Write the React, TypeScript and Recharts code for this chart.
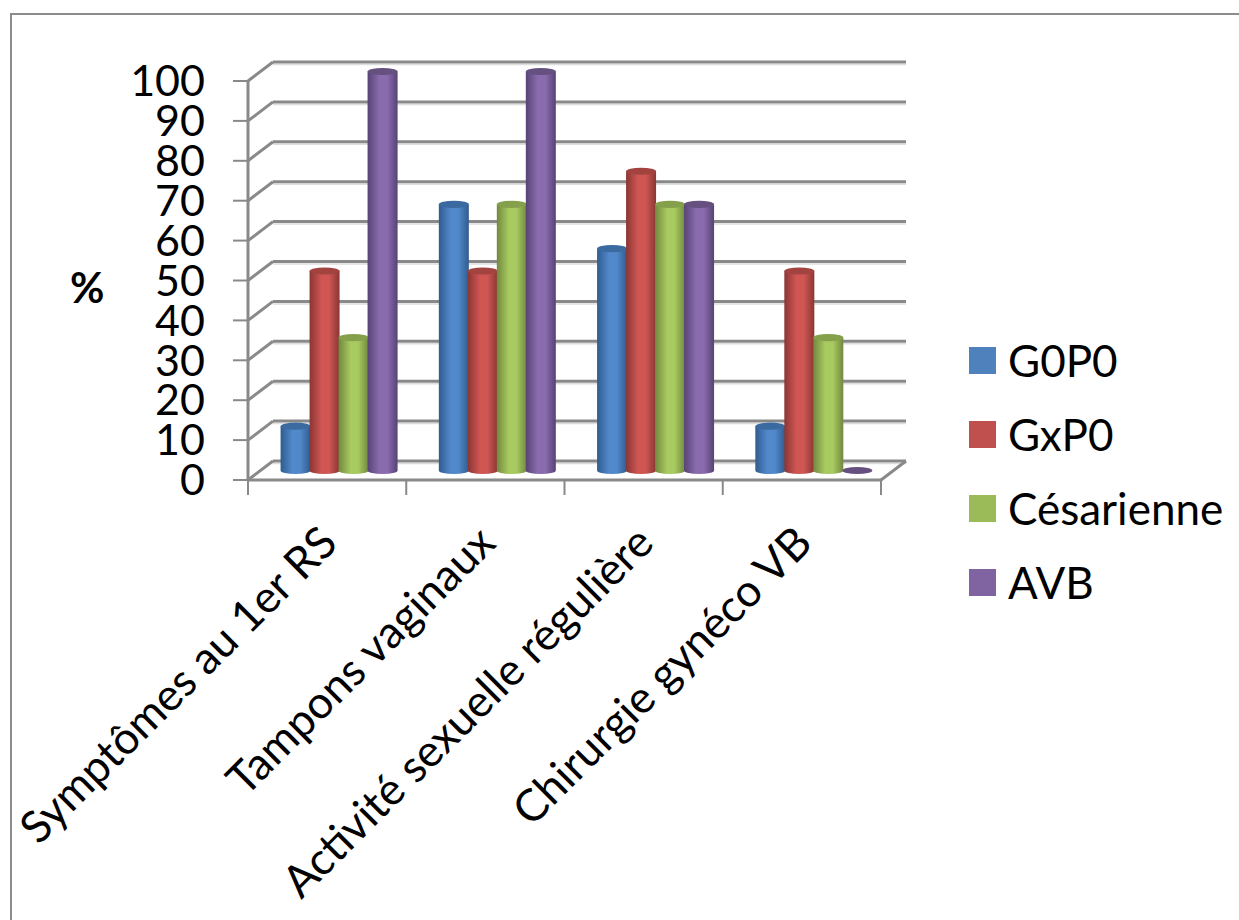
import { Bar, BarChart, CartesianGrid, Legend, XAxis, YAxis } from "recharts";

const categories = [
  "Symptômes au 1er RS",
  "Tampons vaginaux",
  "Activité sexuelle régulière",
  "Chirurgie gynéco VB",
];
const g0p0 = [11.1, 66.7, 55.6, 11.1];
const gxp0 = [50, 50, 75, 50];
const cesarienne = [33.3, 66.7, 66.7, 33.3];
const avb = [100, 100, 66.7, 0];
const yTicks = [0, 10, 20, 30, 40, 50, 60, 70, 80, 90, 100];
const edgeTicks = [0, 1, 2, 3, 4];

const chartData = categories.map((name, i) => ({
  name,
  slot: i,
  G0P0: g0p0[i],
  GxP0: gxp0[i],
  Césarienne: cesarienne[i],
  AVB: avb[i],
}));

const FONT = "Lato, sans-serif";
const AXIS = "#898989";
// how far the back wall sits behind the front of the axes
const DEPTH_X = 25;
const DEPTH_Y = 19;

const shades: Record<string, { id: string; edge: string; mid: string; top: string }> = {
  "#4f81bd": { id: "cylBlue", edge: "#2f5c8f", mid: "#5289cb", top: "#3a6a9f" },
  "#c0504d": { id: "cylRed", edge: "#8a3634", mid: "#cf5653", top: "#a24340" },
  "#9bbb59": { id: "cylGreen", edge: "#71893f", mid: "#a8ca60", top: "#84a04b" },
  "#8064a2": { id: "cylPurple", edge: "#574375", mid: "#8a6cae", top: "#65507f" },
};

function Cylinder(props: any) {
  const { x, y, width, height, fill } = props;
  const s = shades[fill];
  const left = x + DEPTH_X / 2 - 0.5;
  const w = width + 1;
  const rx = w / 2;
  const ry = 3.6;
  const top = y - DEPTH_Y / 2;
  const bottom = top + height;
  if (height < 1) {
    return <ellipse cx={left + rx} cy={bottom} rx={rx} ry={ry} fill={s.top} />;
  }
  return (
    <g>
      <path
        d={`M${left},${top} L${left},${bottom} A${rx},${ry} 0 0 0 ${left + w},${bottom} L${left + w},${top} Z`}
        fill={`url(#${s.id})`}
      />
      <ellipse cx={left + rx} cy={top} rx={rx} ry={ry} fill={s.top} />
    </g>
  );
}

function WallLine(props: any) {
  const { x1, y1, x2, y2 } = props;
  const isFloor = y1 > 475;
  return (
    <g key={`wall-${y1}`}>
      <line
        x1={x1 + DEPTH_X}
        y1={y1 - DEPTH_Y + 2.5}
        x2={x2 + DEPTH_X}
        y2={y2 - DEPTH_Y + 2.5}
        stroke="#dedede"
        strokeWidth={1.5}
      />
      <line
        x1={x1 + DEPTH_X}
        y1={y1 - DEPTH_Y}
        x2={x2 + DEPTH_X}
        y2={y2 - DEPTH_Y}
        stroke={AXIS}
        strokeWidth={3}
      />
      <line x1={x1} y1={y1} x2={x1 + DEPTH_X} y2={y1 - DEPTH_Y} stroke={AXIS} strokeWidth={3} />
      {isFloor && (
        <line x1={x2} y1={y2} x2={x2 + DEPTH_X} y2={y2 - DEPTH_Y} stroke={AXIS} strokeWidth={3} />
      )}
    </g>
  );
}

function CategoryTick({ x, y, payload }: any) {
  return (
    <text
      transform={`translate(${x - 10},${y + 34}) rotate(-45)`}
      textAnchor="end"
      dy="0.71em"
      fontFamily={FONT}
      fontSize={44.5}
      fill="#000"
    >
      {payload.value}
    </text>
  );
}

function LegendBox({ payload }: any) {
  return (
    <div style={{ fontFamily: FONT, fontSize: 44, color: "#000" }}>
      {(payload || []).map((item: any) => (
        <div key={item.value} style={{ display: "flex", alignItems: "center", height: 74 }}>
          <span
            style={{
              width: 27,
              height: 27,
              marginRight: 12,
              background: item.color,
              display: "inline-block",
            }}
          />
          <span>{item.value}</span>
        </div>
      ))}
    </div>
  );
}

export default function App() {
  return (
    <div style={{ position: "absolute", left: 0, top: 0, width: 1239, height: 920, background: "#fff" }}>
      <div
        style={{
          position: "absolute",
          left: 10,
          top: 13,
          right: 0,
          bottom: 0,
          borderLeft: "2px solid #8c8c8c",
          borderTop: "2px solid #8c8c8c",
        }}
      />
      <BarChart
        width={1239}
        height={920}
        data={chartData}
        margin={{ top: 81, right: 88, left: 0, bottom: 0 }}
        barCategoryGap="13%"
        barGap={0}
        style={{ position: "absolute", left: 0, top: 0 }}
      >
        <defs>
          {Object.values(shades).map((s) => (
            <linearGradient key={s.id} id={s.id} x1="0" y1="0" x2="1" y2="0">
              <stop offset="0%" stopColor={s.edge} />
              <stop offset="40%" stopColor={s.mid} />
              <stop offset="65%" stopColor={s.mid} />
              <stop offset="100%" stopColor={s.edge} />
            </linearGradient>
          ))}
        </defs>
        <CartesianGrid horizontal={WallLine as any} vertical={false} />
        <XAxis
          xAxisId="edges"
          dataKey="slot"
          type="number"
          domain={[0, 4]}
          ticks={edgeTicks}
          tick={() => <g />}
          tickSize={15}
          height={1}
          interval={0}
          axisLine={{ stroke: AXIS, strokeWidth: 3 }}
          tickLine={{ stroke: AXIS, strokeWidth: 2 }}
        />
        <XAxis
          dataKey="name"
          xAxisId="names"
          height={439}
          interval={0}
          axisLine={false}
          tickLine={false}
          tick={CategoryTick}
        />
        <YAxis
          width={248}
          domain={[0, 100]}
          ticks={yTicks}
          interval={0}
          tickSize={15}
          tickMargin={28}
          axisLine={{ stroke: AXIS, strokeWidth: 3 }}
          tickLine={{ stroke: AXIS, strokeWidth: 2 }}
          tick={{ fontFamily: FONT, fontSize: 43, fill: "#000" }}
          label={{
            value: "%",
            position: "insideLeft",
            dx: 65,
            dy: 8,
            style: { fontFamily: FONT, fontSize: 42, fontWeight: 700, fill: "#000" },
          }}
        />
        <Legend
          layout="vertical"
          align="right"
          verticalAlign="top"
          content={LegendBox}
          itemSorter={null}
          wrapperStyle={{ left: 969, top: 323, width: 270 }}
        />
        <Bar dataKey="G0P0" xAxisId="names" fill="#4f81bd" shape={Cylinder} isAnimationActive={false} />
        <Bar dataKey="GxP0" xAxisId="names" fill="#c0504d" shape={Cylinder} isAnimationActive={false} />
        <Bar dataKey="Césarienne" xAxisId="names" fill="#9bbb59" shape={Cylinder} isAnimationActive={false} />
        <Bar dataKey="AVB" xAxisId="names" fill="#8064a2" shape={Cylinder} isAnimationActive={false} />
      </BarChart>
    </div>
  );
}
